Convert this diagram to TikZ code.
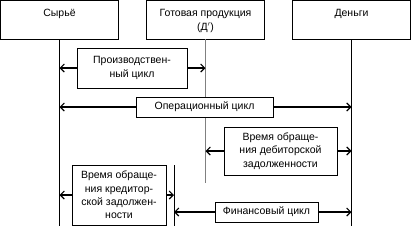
\documentclass[tikz,border=0pt]{standalone}
\usepackage{fontspec}
\setmainfont{Liberation Sans}
\usetikzlibrary{arrows.meta,positioning}

\begin{document}
\begin{tikzpicture}[x=1pt,y=-1pt,node distance=9.5pt]
    \tikzset{head/.style={draw,line width=0.8pt,minimum width=118pt,minimum height=39pt,inner sep=0pt},
      headtext/.style={inner sep=0pt,align=center,font=\fontsize{10.5}{14}\selectfont},
      cyc/.style={draw,line width=0.8pt,fill=white,align=center,inner sep=0pt,font=\fontsize{10.5}{13.3}\selectfont},
      tip/.style={line width=1.1pt,-{Straight Barb[length=4pt,width=8pt]}}}
    \useasboundingbox (0,0) rectangle (411,226);
    \coordinate (bot) at (0,226);
    \node[head] (raw) at (59.5,19.5) {};
    \node[head] (goods) at (205.5,19.5) {};
    \node[head] (cash) at (351.5,19.5) {};
    \node[headtext,below=of raw.north] (rawtext) {Сырьё};
    \node[headtext,below=of goods.north] (goodstext) {Готовая продукция\\(Д$^\prime$)};
    \node[headtext,below=of cash.north] (cashtext) {Деньги};
    \draw[line width=0.9pt] (raw.south) -- (raw.south |- bot);
    \draw[line width=0.9pt] (cash.south) -- (cash.south |- bot);
    \coordinate (goodsend) at (205.5,183);
    \draw[gray,line width=0.6pt] (goods.south) -- (goodsend);
    \coordinate (credtop) at (174,165);
    \draw[line width=0.9pt] (credtop) -- (credtop |- bot);
    \node[cyc,minimum width=110pt,minimum height=40pt] (prod) at (132,68) {Производствен-\\ный цикл};
    \draw[tip] (prod.west) -- (prod.west -| raw.south);
    \draw[tip] (prod.east) -- (prod.east -| goods.south);
    \node[cyc,minimum width=137pt,minimum height=20pt] (oper) at (204.5,107) {Операционный цикл};
    \draw[tip] (oper.west) -- (oper.west -| raw.south);
    \draw[tip] (oper.east) -- (oper.east -| cash.south);
    \node[cyc,minimum width=113pt,minimum height=48pt] (debt) at (280.5,151) {Время обраще-\\ния дебиторской\\задолженности};
    \draw[tip] (debt.west) -- (debt.west -| goods.south);
    \draw[tip] (debt.east) -- (debt.east -| cash.south);
    \node[cyc,minimum width=94pt,minimum height=60pt] (cred) at (119,195) {Время обраще-\\ния кредитор-\\ской задолжен-\\ности};
    \draw[tip] (cred.west) -- (cred.west -| raw.south);
    \draw[tip] (cred.east) -- (cred.east -| credtop);
    \node[cyc,minimum width=103pt,minimum height=20pt] (fin) at (266.5,212) {Финансовый цикл};
    \draw[tip] (fin.west) -- (fin.west -| credtop);
    \draw[tip] (fin.east) -- (fin.east -| cash.south);
\end{tikzpicture}
\end{document}
